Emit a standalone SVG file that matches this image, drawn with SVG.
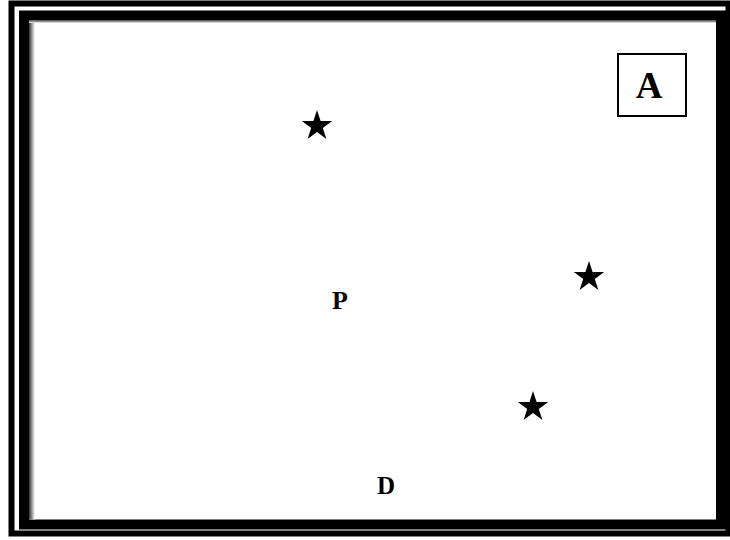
<svg xmlns="http://www.w3.org/2000/svg" width="730" height="540" viewBox="0 0 730 540">
<defs>
<style>
.lbl{font-family:"Liberation Serif","Times New Roman",serif;font-weight:bold;fill:#000}
.star{fill:#000}
</style>
<linearGradient id="gl" x1="0" y1="0" x2="1" y2="0">
<stop offset="0" stop-color="#333"/><stop offset="1" stop-color="#fff"/>
</linearGradient>
<linearGradient id="gt" x1="0" y1="0" x2="0" y2="1">
<stop offset="0" stop-color="#444"/><stop offset="1" stop-color="#fff"/>
</linearGradient>
<polygon id="st" points="0,-16 3.6,-4.9 15.2,-4.9 5.8,1.9 9.4,12.9 0,6.1 -9.4,12.9 -5.8,1.9 -15.2,-4.9 -3.6,-4.9"/>
</defs>
<rect width="730" height="540" fill="#fff"/>
<g id="frame">
<rect x="11.5" y="3.5" width="717" height="530" fill="none" stroke="#000" stroke-width="6"/>
<rect x="24" y="15.5" width="697" height="509" fill="none" stroke="#000" stroke-width="10"/>
<rect x="29" y="20.5" width="6" height="499" fill="url(#gl)"/>
<rect x="29" y="20.5" width="687" height="2.5" fill="url(#gt)"/>
</g>
<g id="nodeA">
<rect x="618" y="54" width="68" height="62" fill="#fff" stroke="#000" stroke-width="2"/>
<text class="lbl" x="649" y="98" font-size="37" text-anchor="middle">A</text>
</g>
<g id="star1"><use href="#st" x="317" y="126" class="star"/></g>
<g id="star2"><use href="#st" x="589" y="277" class="star"/></g>
<g id="star3"><use href="#st" x="533" y="407" class="star"/></g>
<g id="nodeP"><text class="lbl" x="332" y="309" font-size="26">P</text></g>
<g id="nodeD"><text class="lbl" x="377" y="494" font-size="25">D</text></g>
<g id="connectors"></g>
</svg>
